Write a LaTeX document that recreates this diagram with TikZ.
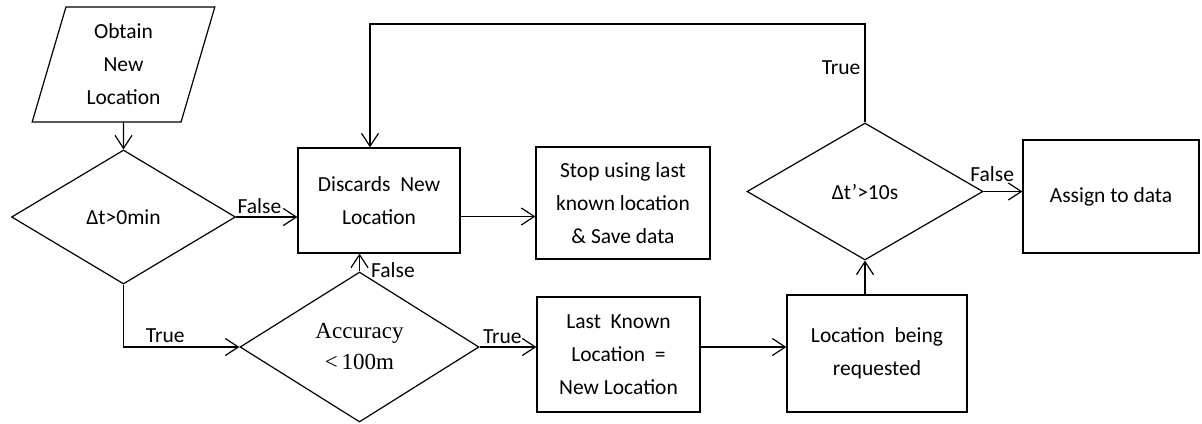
\documentclass[tikz,border=0pt]{standalone}
\usepackage{fontspec}
\setmainfont{Carlito}
\newfontfamily\accfont{Liberation Serif}
\usetikzlibrary{arrows.meta,calc,shapes.geometric}

\begin{document}
\begin{tikzpicture}[x=1pt,y=-1pt,line width=1.2pt,
    >={Straight Barb[length=13pt,width=17pt]},
    every node/.style={font=\fontsize{21.5}{33}\selectfont},
    procbox/.style={draw,align=center,inner sep=0pt},
    decision/.style={draw,diamond,align=center,inner sep=0pt},
    lbl/.style={inner sep=2pt}]
  \useasboundingbox (0,0) rectangle (1202,423);

  \node[draw,trapezium,trapezium left angle=75,trapezium right angle=105,trapezium stretches=true,
        minimum width=183,minimum height=115,align=center,inner sep=0pt] (obtain) at (123.5,64.5) {Obtain\\New\\Location};
  \node[decision,minimum width=224,minimum height=134] (dt) at (123.5,217) {Δt>0min};
  \node[procbox,minimum width=162,minimum height=105] (discard) at (379,200.5) {Discards~ New\\Location};
  \node[procbox,minimum width=174,minimum height=112] (stop) at (623,203) {Stop using last\\known location\\\& Save data};
  \node[decision,minimum width=239,minimum height=150,font=\fontsize{23}{31}\selectfont] (acc) at (359.5,347)
    {\accfont Accuracy\\\accfont <\,100m};
  \node[procbox,minimum width=163,minimum height=115] (last) at (618.5,354.5) {Last~ Known\\Location~ =\\New Location};
  \node[procbox,minimum width=180,minimum height=117] (req) at (877,353.5) {Location~ being\\requested};
  \node[decision,minimum width=236,minimum height=137] (dtp) at (865,191.5) {Δt’>10s};
  \node[procbox,minimum width=176,minimum height=113] (assign) at (1111,196.5) {Assign to data};

  \coordinate (loop) at (370,24);

  % First check
  \draw[->] (obtain.south) -- (dt.north);
  \draw[->] (dt.east) -- (dt.east -| discard.west) node[lbl,pos=0.38,above,yshift=1pt]{False};
  \draw[->] (dt.south) |- (acc.west) node[lbl,pos=0.68,above,yshift=2pt]{True};

  % Accuracy check
  \draw[->] (acc.north) -- (acc.north |- discard.south) node[lbl,pos=0.1,right,xshift=9pt]{False};
  \draw[->] (acc.east) -- (acc.east -| last.west) node[lbl,pos=0.4,above,yshift=1pt]{True};
  \draw[->] ([yshift=-16pt]discard.east) -- ([yshift=-16pt]discard.east -| stop.west);

  % Request and timing
  \draw[->] (acc.east -| last.east) -- (acc.east -| req.west);
  \draw[->] (dtp.south |- req.north) -- (dtp.south);
  \draw[->] (dtp.east) -- (dtp.east -| assign.west) node[lbl,pos=0.22,above,yshift=7pt]{False};

  % Back to discard
  \draw[->] (dtp.north) |- (loop) node[lbl,pos=0.28,left,xshift=-2pt]{True} -- (loop |- discard.north);
\end{tikzpicture}
\end{document}
